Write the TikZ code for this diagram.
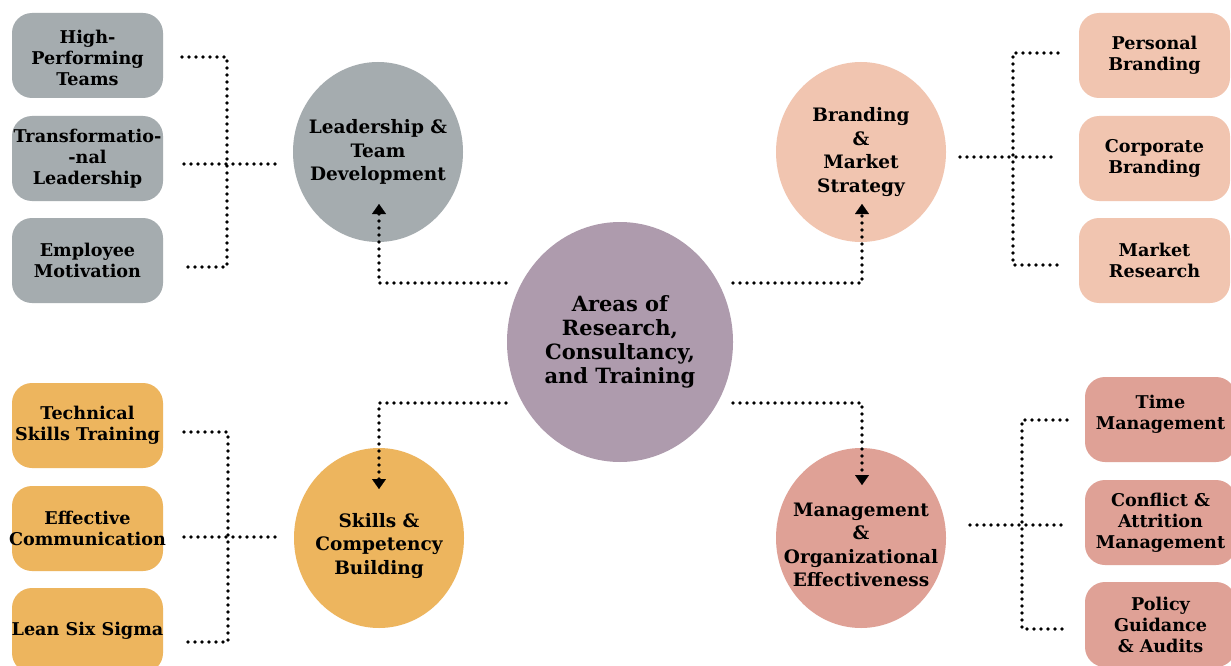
\documentclass[tikz,border=0pt]{standalone}
\usepackage{fontspec}
\setmainfont{DejaVu Serif}
\usetikzlibrary{shapes.geometric,arrows.meta}
\definecolor{cgray}{HTML}{A5ACAF}
\definecolor{cpeach}{HTML}{F1C5B0}
\definecolor{corange}{HTML}{EDB55E}
\definecolor{cpink}{HTML}{DFA196}
\definecolor{cpurple}{HTML}{AE9BAD}
\begin{document}
\begin{tikzpicture}[x=1pt,y=-1pt,
 box/.style={draw=none,rounded corners=20pt, minimum width=151pt, minimum height=85pt, inner sep=0pt},
 blob/.style={ellipse, draw=none, minimum width=170pt, minimum height=180pt, inner sep=0pt},
 lbl/.style={align=center, font=\bfseries\fontsize{17.6}{21}\selectfont, inner sep=0pt},
 clbl/.style={align=center, font=\bfseries\fontsize{18.5}{23.5}\selectfont, inner sep=0pt},
 mlbl/.style={align=center, font=\bfseries\fontsize{21}{24}\selectfont, inner sep=0pt},
 dotline/.style={line width=3.6pt, line cap=round, dash pattern=on 0pt off 7pt},
 tip/.style={-{Triangle[width=14pt,length=10pt,line width=0.1pt]}}
]
\useasboundingbox (0,0) rectangle (1231,666);
\clip (0,0) rectangle (1231,666);
\fill[white] (0,0) rectangle (1231,666);

% central circle
\node[ellipse, fill=cpurple, minimum width=226pt, minimum height=240pt, inner sep=0pt] (main) at (620,342) {};
\node[mlbl] (mainT) at (main.center) {Areas of\\Research,\\Consultancy,\\and Training};

% category circles
\node[blob, fill=cgray] (lead) at (378,152) {};
\node[clbl] (leadT) at (lead.center) {Leadership \&\\Team\\Development};
\node[blob, fill=cpeach] (brand) at (861,152) {};
\node[clbl] (brandT) at (brand.center) {Branding\\\&\\Market\\Strategy};
\node[blob, fill=corange] (skill) at (379,538) {};
\node[clbl] (skillT) at (379,546) {Skills \&\\Competency\\Building};
\node[blob, fill=cpink] (mgmt) at (861,538) {};
\node[clbl] (mgmtT) at (861,545) {Management\\\&\\Organizational\\Effectiveness};

% boxes top-left
\node[box, fill=cgray] (hp) at (87.5,55.5) {};
\node[lbl] (hpT) at (87.5,58) {High-\\Performing\\Teams};
\node[box, fill=cgray] (tl) at (87.5,158.5) {};
\node[lbl] (tlT) at (tl.center) {Transformatio-\\-nal\\Leadership};
\node[box, fill=cgray] (em) at (87.5,260.5) {};
\node[lbl] (emT) at (em.center) {Employee\\Motivation};

% boxes top-right
\node[box, fill=cpeach] (pb) at (1154.5,55.5) {};
\node[lbl] (pbT) at (pb.center) {Personal\\Branding};
\node[box, fill=cpeach] (cb) at (1154.5,158.5) {};
\node[lbl] (cbT) at (cb.center) {Corporate\\Branding};
\node[box, fill=cpeach] (mr) at (1154.5,260.5) {};
\node[lbl] (mrT) at (mr.center) {Market\\Research};

% boxes bottom-left
\node[box, fill=corange] (ts) at (87.5,425.5) {};
\node[lbl] (tsT) at (ts.center) {Technical\\Skills Training};
\node[box, fill=corange] (ec) at (87.5,528.5) {};
\node[lbl] (ecT) at (ec.center) {Effective\\Communication};
\node[box, fill=corange] (ls) at (87.5,630.5) {};
\node[lbl] (lsT) at (ls.center) {Lean Six Sigma};

% boxes bottom-right
\node[box, fill=cpink] (tm) at (1160.5,419.5) {};
\node[lbl] (tmT) at (1160.5,414) {Time\\Management};
\node[box, fill=cpink] (ca) at (1160.5,522.5) {};
\node[lbl] (caT) at (ca.center) {Conflict \&\\Attrition\\Management};
\node[box, fill=cpink] (pg) at (1160.5,624.5) {};
\node[lbl] (pgT) at (pg.center) {Policy\\Guidance\\\& Audits};

% connector end points
\coordinate (mNW) at (506,283);
\coordinate (mNE) at (733,283);
\coordinate (mSW) at (506,403);
\coordinate (mSE) at (733,403);
\coordinate (leadTip) at (379,204);
\coordinate (brandTip) at (862,204);
\coordinate (skillTip) at (379,489);
\coordinate (mgmtTip) at (862,485);

% main -> categories
\draw[dotline,tip] (mNW) -| (leadTip);
\draw[dotline,tip] (mNE) -| (brandTip);
\draw[dotline,tip] (mSW) -| (skillTip);
\draw[dotline,tip] (mSE) -| (mgmtTip);

% bracket top-left
\coordinate (hpE) at (182,57);
\coordinate (tlE) at (184,164);
\coordinate (emE) at (184,267);
\coordinate (leadW) at (279,164);
\draw[dotline] (hpE) -- (227,57) -- (227,267) -- (emE);
\draw[dotline] (tlE) -- (leadW);

% bracket top-right
\coordinate (pbW) at (1058,53);
\coordinate (cbW) at (1058,157);
\coordinate (mrW) at (1058,265);
\coordinate (brandE) at (960,157);
\draw[dotline] (pbW) -- (1013,53) -- (1013,265) -- (mrW);
\draw[dotline] (brandE) -- (cbW);

% bracket bottom-left
\coordinate (tsE) at (184,432);
\coordinate (ecE) at (184,537);
\coordinate (lsE) at (184,642);
\coordinate (skillW) at (282,537);
\draw[dotline] (tsE) -- (228,432) -- (228,642) -- (lsE);
\draw[dotline] (ecE) -- (skillW);

% bracket bottom-right
\coordinate (tmW) at (1067,420);
\coordinate (caW) at (1067,525);
\coordinate (pgW) at (1067,629);
\coordinate (mgmtE) at (970,525);
\draw[dotline] (tmW) -- (1022,420) -- (1022,629) -- (pgW);
\draw[dotline] (mgmtE) -- (caW);
\end{tikzpicture}
\end{document}
